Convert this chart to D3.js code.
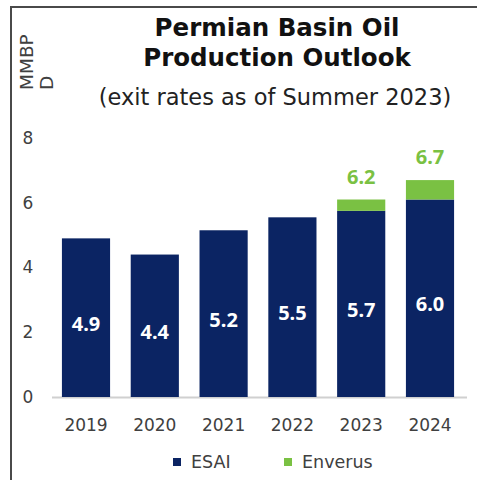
<!DOCTYPE html>
<html>
<head>
<meta charset="utf-8">
<script src="https://cdn.jsdelivr.net/npm/d3@7"></script>
<style>
  html, body { margin: 0; padding: 0; background: #fff; }
  svg { display: block; font-family: "DejaVu Sans", sans-serif; }
</style>
</head>
<body>
<svg id="chart" width="477" height="480"></svg>
<script>
// ---- data ----
const years = ["2019", "2020", "2021", "2022", "2023", "2024"];
const esai = [4.9, 4.4, 5.15, 5.55, 5.75, 6.1];
const enverusExtra = [0, 0, 0, 0, 0.35, 0.6];
const esaiLabels = ["4.9", "4.4", "5.2", "5.5", "5.7", "6.0"];
const enverusLabels = ["", "", "", "", "6.2", "6.7"];
const yTicks = [0, 2, 4, 6, 8];
const seriesNames = ["ESAI", "Enverus"];
const titleLines = ["Permian Basin Oil", "Production Outlook"];
const subtitle = "(exit rates as of Summer 2023)";
const yTitleLines = ["MMBP", "D"];

const navy = "#0b2463";
const green = "#7ac143";

const svg = d3.select("#chart");

// frame
svg.append("line").attr("x1", 11).attr("y1", 7).attr("x2", 477).attr("y2", 7)
  .attr("stroke", "#4a4a4a").attr("stroke-width", 2);
svg.append("line").attr("x1", 11).attr("y1", 6).attr("x2", 11).attr("y2", 480)
  .attr("stroke", "#4a4a4a").attr("stroke-width", 2);

const x = d3.scaleBand().domain(years).range([51.6, 464.4]).paddingInner(0.3).paddingOuter(0.15);
const y = d3.scaleLinear().domain([0, 8]).range([397, 138]);

// stacked data
const stackData = years.map((yr, i) => ({ year: yr, ESAI: esai[i], Enverus: enverusExtra[i] }));
const stacked = d3.stack().keys(seriesNames)(stackData);
const colors = { ESAI: navy, Enverus: green };

// axis line
svg.append("line").attr("x1", 52).attr("x2", 467).attr("y1", y(0) + 0.5).attr("y2", y(0) + 0.5)
  .attr("stroke", "#d0d0d0").attr("stroke-width", 2);

// bars
svg.append("g").selectAll("g").data(stacked).join("g")
  .attr("fill", d => colors[d.key])
  .selectAll("rect").data(d => d).join("rect")
  .attr("x", d => x(d.data.year))
  .attr("width", x.bandwidth())
  .attr("y", d => y(d[1]))
  .attr("height", d => Math.max(0, y(d[0]) - y(d[1])));

// ESAI labels (inside bars)
svg.append("g").selectAll("text").data(years).join("text")
  .attr("x", d => x(d) + x.bandwidth() / 2)
  .attr("y", (d, i) => (y(0) + y(esai[i])) / 2 + 13)
  .attr("text-anchor", "middle")
  .attr("fill", "#fff")
  .attr("font-family", "Noto Sans, sans-serif")
  .attr("font-weight", "bold")
  .attr("font-size", 20)
  .text((d, i) => esaiLabels[i]);

// Enverus labels (above bars)
svg.append("g").selectAll("text").data(years).join("text")
  .attr("x", d => x(d) + x.bandwidth() / 2)
  .attr("y", (d, i) => y(esai[i] + enverusExtra[i]) - 16)
  .attr("text-anchor", "middle")
  .attr("fill", green)
  .attr("font-family", "Noto Sans, sans-serif")
  .attr("font-weight", "bold")
  .attr("font-size", 20)
  .text((d, i) => enverusLabels[i]);

// y axis
const yAxis = d3.axisLeft(y).tickValues(yTicks).tickSize(0).tickPadding(0);
const gy = svg.append("g").attr("transform", "translate(34,0)").call(yAxis);
gy.select(".domain").remove();
gy.selectAll("text").attr("font-size", 17).attr("fill", "#404040")
  .attr("font-family", "DejaVu Sans, sans-serif").attr("text-anchor", "middle").attr("x", -6);

// x axis
const xAxis = d3.axisBottom(x).tickSize(0).tickPadding(0);
const gx = svg.append("g").attr("transform", `translate(0,${y(0)})`).call(xAxis);
gx.select(".domain").remove();
gx.selectAll("text").attr("font-size", 17).attr("fill", "#404040")
  .attr("font-family", "DejaVu Sans, sans-serif").attr("dy", null).attr("y", 34);

// y axis title (rotated, two lines)
const yt = svg.append("text").attr("transform", "rotate(-90)")
  .attr("font-size", 18.5).attr("fill", "#404040");
yTitleLines.forEach((t, i) => {
  yt.append("tspan").attr("x", -90).attr("y", 33 + i * 20).text(t);
});

// titles
svg.append("g").selectAll("text").data(titleLines).join("text")
  .attr("x", 277).attr("y", (d, i) => 36 + i * 30)
  .attr("text-anchor", "middle").attr("font-weight", "bold")
  .attr("font-size", 24.5).attr("fill", "#111")
  .text(d => d);
svg.append("text").attr("x", 275).attr("y", 105)
  .attr("text-anchor", "middle").attr("font-size", 22.5).attr("fill", "#222")
  .text(subtitle);

// legend
const legendX = [173, 284];
const lg = svg.append("g").selectAll("g").data(seriesNames).join("g")
  .attr("transform", (d, i) => `translate(${legendX[i]},458)`);
lg.append("rect").attr("width", 8).attr("height", 8).attr("fill", d => colors[d]);
lg.append("text").attr("x", 18).attr("y", 10).attr("font-size", 17.5).attr("fill", "#404040").text(d => d);
</script>
</body>
</html>
